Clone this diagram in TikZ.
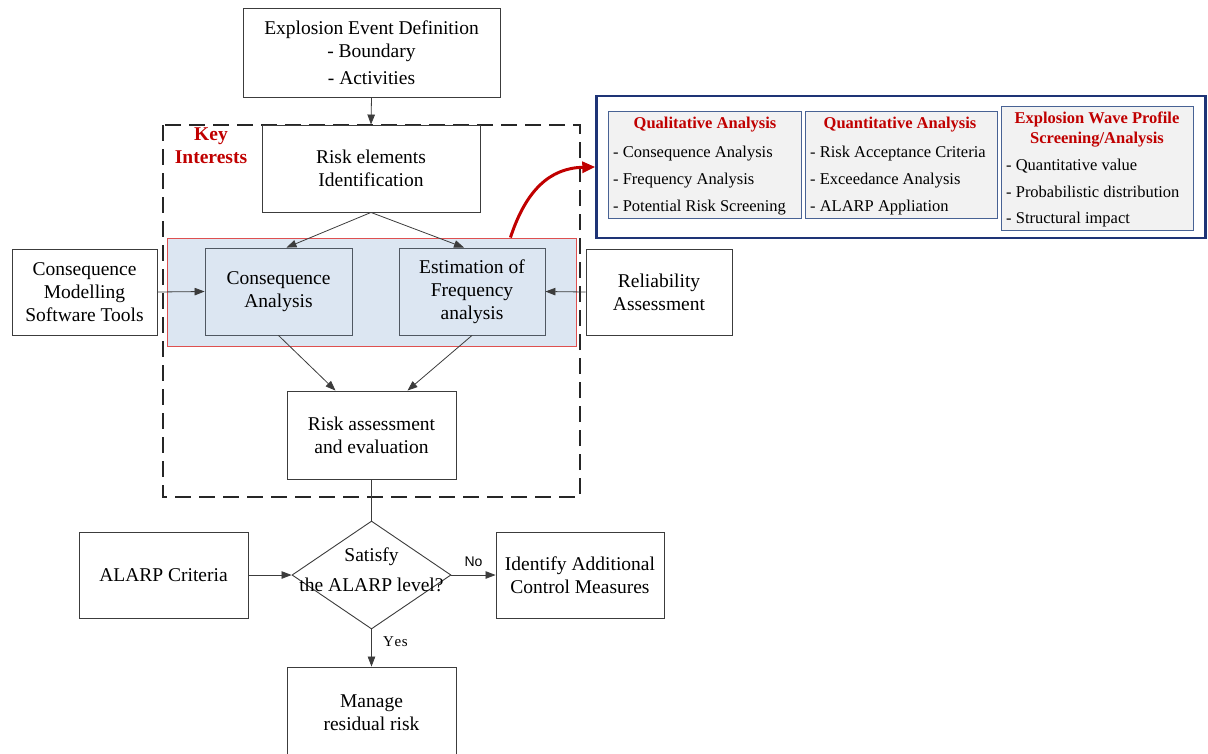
\documentclass[tikz,border=0pt]{standalone}
\usepackage{fontspec}
\setmainfont{Liberation Serif}
\setsansfont{Liberation Sans}
\usetikzlibrary{arrows.meta,shapes.geometric,calc}

\definecolor{boxline}{RGB}{60,60,60}
\definecolor{grpfill}{RGB}{220,230,242}
\definecolor{grpline}{RGB}{222,80,80}
\definecolor{inline}{RGB}{80,88,98}
\definecolor{navy}{RGB}{30,52,118}
\definecolor{panline}{RGB}{72,98,148}
\definecolor{panfill}{RGB}{242,242,242}
\definecolor{keyred}{RGB}{192,0,0}

\begin{document}
\begin{tikzpicture}[x=1pt,y=-1pt,
  font=\fontsize{19.5}{23}\selectfont,
  dims/.style 2 args={minimum width=#1,minimum height=#2,inner sep=0pt},
  box/.style={draw=boxline,line width=0.9pt,fill=white,align=center},
  inbox/.style={draw=inline,line width=0.9pt,fill=grpfill,align=center},
  panel/.style={draw=panline,line width=0.9pt,fill=panfill},
  ptitle/.style={font=\fontsize{16.5}{20}\selectfont\bfseries,text=keyred,align=center},
  pitems/.style={font=\fontsize{16.5}{27}\selectfont,align=left,anchor=west,inner sep=0pt},
  tag/.style={font=\fontsize{15}{17}\selectfont},
  arr/.style={draw=boxline,line width=0.8pt,-{Triangle[length=10pt,width=7.5pt]}},
  plain/.style={draw=boxline,line width=0.8pt}]

\useasboundingbox (0,0) rectangle (1208,753);

% dashed frame of the key interests
\draw[line width=2.4pt,draw=black!85,dash pattern=on 16pt off 8pt] (163,125) rectangle (580,497);
\node[font=\fontsize{19.5}{23}\selectfont\bfseries,text=keyred,align=center] (key) at (211,146) {Key\\Interests};

% highlighted analysis band
\node[draw=grpline,line width=0.9pt,fill=grpfill,dims={409}{108}] (grp) at (371.5,292) {};

% main flow boxes
\node[box,dims={257}{89}] (top) at (371.5,52.5) {Explosion Event Definition\\- Boundary\\[4pt]- Activities};
\node[box,dims={218}{87}] (risk) at (371,168.5) {Risk elements\\Identification};
\node[inbox,dims={147}{87}] (cons) at (278.5,291.5) {Consequence\\Analysis};
\node[inbox,dims={146}{87}] (freq) at (472,291.5) {Estimation of\\Frequency\\analysis};
\node[box,dims={145}{86}] (cmst) at (84.5,292) {Consequence\\Modelling\\Software Tools};
\node[box,dims={146}{86}] (rel) at (659,292) {Reliability\\Assessment};
\node[box,dims={169}{88}] (rae) at (371.5,435) {Risk assessment\\and evaluation};
\node[draw=boxline,line width=0.9pt,fill=white,diamond,dims={159}{108},
      label={[align=center,yshift=5pt]center:Satisfy\\[7pt]the ALARP level?}] (dia) at (371.5,575) {};
\node[box,dims={169}{86}] (alarp) at (163.5,575) {ALARP Criteria};
\node[box,dims={168}{86}] (ident) at (580,575) {Identify Additional\\Control Measures};
\node[box,dims={169}{92}] (manage) at (371.5,713) {Manage\\residual risk};

% connectors
\draw[arr] (top.south) -- (risk.north);
\draw[arr] (risk.south) -- ([xshift=8pt]cons.north);
\draw[arr] (risk.south) -- ([xshift=-8pt]freq.north);
\draw[arr] (cmst.east) -- (cons.west);
\draw[arr] (rel.west) -- (freq.east);
\draw[arr] (cons.south) -- ([xshift=-36pt]rae.north);
\draw[arr] (freq.south) -- ([xshift=36pt]rae.north);
\draw[plain] (rae.south) -- (dia.north);
\draw[arr] (alarp.east) -- (dia.west);
\draw[arr] (dia.east) -- node[tag,font=\fontsize{14}{16}\sffamily,above,yshift=5pt] (no) {No} (ident.west);
\draw[arr] (dia.south) -- node[tag,right,xshift=8pt,yshift=6pt] (yes) {Y\kern0.6pt e\kern0.6pt s} (manage.north);

% analysis panel
\node[draw=navy,line width=2.4pt,fill=white,dims={609}{142}] (big) at (901,167) {};
\node[panel,dims={193}{107}] (qual) at (704.5,164.5) {};
\node[panel,dims={192}{107}] (quan) at (901,164.5) {};
\node[panel,dims={192}{124}] (wave) at (1097,168) {};

\node[ptitle] (qualt) at (705,125) {Qualitative Analysis};
\node[pitems] (quali) at (613,181) {- Consequence Analysis\\- Frequency Analysis\\- Potential Risk Screening};
\node[ptitle] (quant) at (900,125) {Quantitative Analysis};
\node[pitems] (quani) at (810,181) {- Risk Acceptance Criteria\\- Exceedance Analysis\\- ALARP Appliation};
\node[ptitle] (wavet) at (1097,130) {Explosion Wave Profile\\Screening/Analysis};
\node[pitems,font=\fontsize{16.5}{26.5}\selectfont] (wavei) at (1006,193.5) {- Quantitative value\\- Probabilistic distribution\\- Structural impact};

% red link from the analysis band to the panel
\coordinate (rs) at ([xshift=-66pt]grp.north east);
\draw[draw=keyred,line width=3pt,-{Triangle[length=13pt,width=11pt]}]
  (rs) .. controls (526,190) and (550,168) .. (big.west);

\end{tikzpicture}
\end{document}
